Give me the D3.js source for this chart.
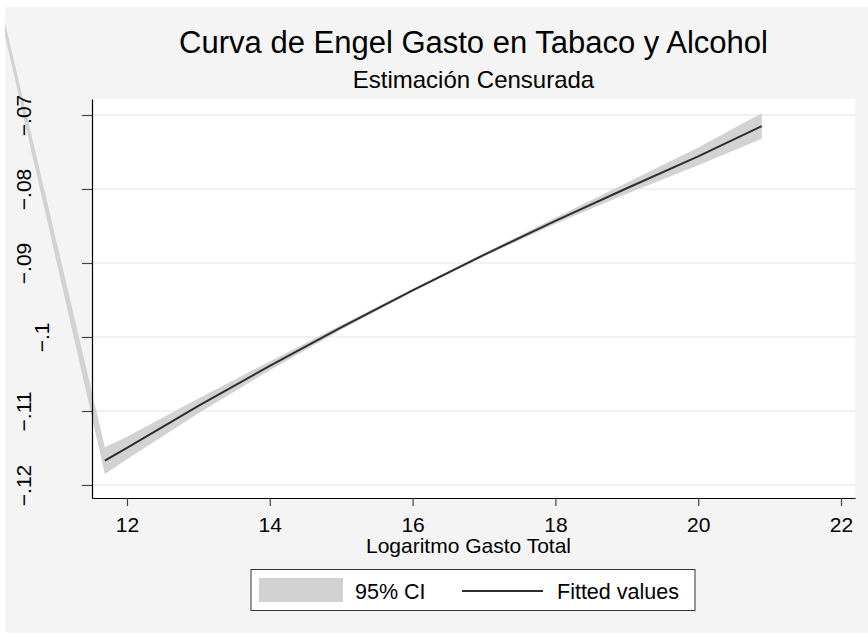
<!DOCTYPE html>
<html>
<head>
<meta charset="utf-8">
<script src="https://cdn.jsdelivr.net/npm/d3@7"></script>
<style>
  body { margin: 0; background: #ffffff; }
  svg text { font-family: Arial, "Liberation Sans", sans-serif; fill: #000; }
</style>
</head>
<body>
<svg id="chart" width="868" height="634"></svg>
<script>
// data
var ciX    = [10, 11.69, 12, 13, 14, 15, 16, 17, 18, 19, 20, 20.89];
var ciLow  = [-0.04689, -0.1185, -0.11652, -0.1103, -0.1045, -0.09902, -0.0939, -0.08912, -0.0847, -0.08065, -0.0768, -0.07322];
var ciHigh = [-0.04554, -0.1149, -0.11348, -0.1083, -0.1033, -0.09838, -0.0935, -0.08868, -0.0839, -0.07915, -0.0744, -0.06978];

var fitX = [11.69, 12, 13, 14, 15, 16, 17, 18, 19, 20, 20.89];
var fitY = [-0.1167, -0.1150, -0.1093, -0.1039, -0.0987, -0.0937, -0.0889, -0.0843, -0.0799, -0.0756, -0.0715];

var xTicks = [12, 14, 16, 18, 20, 22];
var yTicks = [-0.12, -0.11, -0.1, -0.09, -0.08, -0.07];

var title = 'Curva de Engel Gasto en Tabaco y Alcohol';
var subtitle = 'Estimación Censurada';
var xTitle = 'Logaritmo Gasto Total';
var legendLabels = ['95% CI', 'Fitted values'];

var bandColor = '#d2d2d2';
var lineColor = '#2e2e2e';

var svg = d3.select('#chart');

// plot region edges (window.top is reserved, so no "top" here)
var pLeft = 92, pRight = 855, pTop = 99, pBottom = 498;

var x = d3.scaleLinear()
  .domain([11.51, 22.196])
  .range([pLeft, pRight]);

var y = d3.scaleLinear()
  .domain([-0.12176, -0.06784])
  .range([pBottom, pTop]);

// outer graph region
svg.append('rect')
  .attr('x', 5)
  .attr('y', 7)
  .attr('width', 863)
  .attr('height', 626)
  .attr('fill', '#f4f4f4');

svg.append('clipPath')
  .attr('id', 'outer')
  .append('rect')
    .attr('x', 5)
    .attr('y', 7)
    .attr('width', 863)
    .attr('height', 626);

// plot region
svg.append('rect')
  .attr('x', pLeft)
  .attr('y', pTop)
  .attr('width', pRight - pLeft)
  .attr('height', pBottom - pTop)
  .attr('fill', '#ffffff');

svg.append('g')
  .selectAll('line')
  .data(yTicks)
  .enter()
  .append('line')
    .attr('x1', pLeft)
    .attr('x2', pRight)
    .attr('y1', function(d) { return y(d); })
    .attr('y2', function(d) { return y(d); })
    .attr('stroke', '#ececec')
    .attr('stroke-width', 1.5);

// confidence band (not clipped to the plot, like the original)
var band = d3.area()
  .x(function(d, i) { return x(ciX[i]); })
  .y0(function(d, i) { return y(ciLow[i]); })
  .y1(function(d, i) { return y(ciHigh[i]); });

svg.append('path')
  .datum(ciX)
  .attr('clip-path', 'url(#outer)')
  .attr('d', band)
  .attr('fill', bandColor);

var fit = d3.line()
  .x(function(d, i) { return x(fitX[i]); })
  .y(function(d, i) { return y(fitY[i]); });

svg.append('path')
  .datum(fitX)
  .attr('d', fit)
  .attr('fill', 'none')
  .attr('stroke', lineColor)
  .attr('stroke-width', 2);

// axes
var fmt = function(d) { return d3.format('.2~f')(d).replace('0.', '.'); };

var axisY = d3.axisLeft(y)
  .tickValues(yTicks)
  .tickFormat(fmt)
  .tickSizeInner(10)
  .tickSizeOuter(0);

var gy = svg.append('g')
  .attr('transform', 'translate(' + pLeft + ',0)')
  .call(axisY);

gy.select('.domain').attr('stroke', '#000').attr('stroke-width', 1.2);
gy.selectAll('.tick line').attr('stroke', '#444').attr('stroke-width', 1.2);
gy.selectAll('.tick text')
  .attr('transform', 'rotate(-90)')
  .attr('x', 0)
  .attr('dy', 0)
  .attr('y', function(d) { return fmt(d).length < 4 ? -43 : -61; })
  .attr('text-anchor', 'middle')
  .style('font-size', '21px');

var axisX = d3.axisBottom(x)
  .tickValues(xTicks)
  .tickSizeInner(8)
  .tickSizeOuter(0);

var gx = svg.append('g')
  .attr('transform', 'translate(0,' + pBottom + ')')
  .call(axisX);

gx.select('.domain').attr('stroke', '#000').attr('stroke-width', 1.2);
gx.selectAll('.tick line').attr('stroke', '#444').attr('stroke-width', 1.2);
gx.selectAll('.tick text')
  .attr('y', 33.5)
  .attr('dy', 0)
  .style('font-size', '21px');

// titles
var mid = (pLeft + pRight) / 2;

svg.append('text')
  .attr('x', mid)
  .attr('y', 53)
  .attr('text-anchor', 'middle')
  .style('font-size', '31px')
  .text(title);

svg.append('text')
  .attr('x', mid)
  .attr('y', 88)
  .attr('text-anchor', 'middle')
  .style('font-size', '24px')
  .text(subtitle);

svg.append('text')
  .attr('x', mid - 5)
  .attr('y', 553)
  .attr('text-anchor', 'middle')
  .style('font-size', '21px')
  .text(xTitle);

// legend
var legend = svg.append('g');

legend.append('rect')
  .attr('x', 251)
  .attr('y', 569.5)
  .attr('width', 444)
  .attr('height', 41)
  .attr('fill', '#ffffff')
  .attr('stroke', '#333')
  .attr('stroke-width', 1);

legend.append('rect')
  .attr('x', 259)
  .attr('y', 578)
  .attr('width', 84)
  .attr('height', 24)
  .attr('fill', bandColor);

legend.append('line')
  .attr('x1', 462)
  .attr('x2', 543)
  .attr('y1', 591)
  .attr('y2', 591)
  .attr('stroke', lineColor)
  .attr('stroke-width', 2);

legend.append('text')
  .attr('x', 355)
  .attr('y', 599)
  .style('font-size', '21.5px')
  .text(legendLabels[0]);

legend.append('text')
  .attr('x', 557)
  .attr('y', 599)
  .style('font-size', '21.5px')
  .text(legendLabels[1]);
</script>
</body>
</html>
